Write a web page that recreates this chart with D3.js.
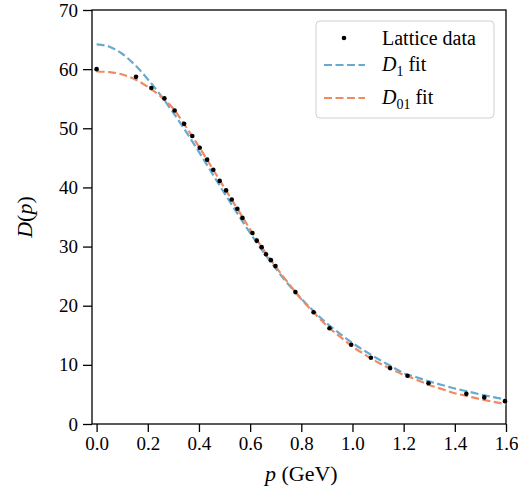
<!DOCTYPE html>
<html>
<head>
<meta charset="utf-8">
<script src="https://cdn.jsdelivr.net/npm/d3@7"></script>
<style>
body { margin: 0; background: #fff; }
text { font-family: "Liberation Serif", serif; fill: #000; }
</style>
</head>
<body>
<div id="chart"></div>
<script>
// lattice points (p in GeV, D(p))
var latticeP = [0.0, 0.154, 0.214, 0.265, 0.305, 0.342, 0.374, 0.403, 0.432, 0.456, 0.481, 0.506,
  0.528, 0.550, 0.570, 0.609, 0.626, 0.645, 0.662, 0.681, 0.699, 0.777, 0.848, 0.910, 0.995,
  1.072, 1.147, 1.215, 1.297, 1.445, 1.515, 1.596];
var latticeD = [60.0, 58.7, 56.8, 55.05, 53.0, 50.75, 48.7, 46.7, 44.7, 43.0, 41.1, 39.5,
  37.95, 36.4, 34.85, 32.3, 31.0, 29.9, 28.7, 27.7, 26.7, 22.3, 18.9, 16.2, 13.4,
  11.2, 9.45, 8.16, 6.9, 5.1, 4.5, 3.86];

// fit curves
var fitP = [0.0, 0.05, 0.1, 0.15, 0.2, 0.25, 0.3, 0.35, 0.4, 0.45, 0.5, 0.55, 0.6, 0.65, 0.7, 0.75,
  0.8, 0.85, 0.9, 0.95, 1.0, 1.05, 1.1, 1.15, 1.2, 1.25, 1.3, 1.35, 1.4, 1.45, 1.5, 1.55, 1.6];
var fitD1 = [64.2, 63.8, 62.6, 60.7, 58.3, 55.6, 52.6, 49.4, 46.0, 42.5, 39.0, 35.6, 32.3, 29.2, 26.3, 23.6,
  21.2, 19.0, 17.0, 15.3, 13.7, 12.3, 11.0, 9.8, 8.6, 7.9, 7.2, 6.6, 6.0, 5.5, 5.0, 4.55, 4.15];
var fitD01 = [59.6, 59.5, 59.1, 58.3, 57.0, 55.4, 53.3, 50.2, 46.9, 43.4, 39.9, 36.4, 32.9, 29.6, 26.6, 23.8,
  21.1, 18.8, 16.6, 14.8, 13.1, 11.7, 10.4, 9.3, 8.3, 7.5, 6.6, 5.9, 5.2, 4.7, 4.2, 3.75, 3.35];

var xTicks = [0, 0.2, 0.4, 0.6, 0.8, 1.0, 1.2, 1.4, 1.6];
var yTicks = [0, 10, 20, 30, 40, 50, 60, 70];

var W = 518, H = 494;
var margin = {top: 10, left: 92, right: 12, bottom: 70};
var width = W - margin.left - margin.right,
    height = H - margin.top - margin.bottom;

var blue = "#67a9cf", orange = "#ef8a62";

var svg = d3.select("#chart").append("svg")
    .attr("width", W)
    .attr("height", H);
var g = svg.append("g")
    .attr("transform", "translate(" + margin.left + "," + margin.top + ")");

var x = d3.scaleLinear().domain([-0.018, 1.6]).range([0, width]);
var y = d3.scaleLinear().domain([0, 70]).range([height, 0]);

var xAxis = g.append("g")
    .attr("transform", "translate(0," + height + ")")
    .call(d3.axisBottom(x).tickValues(xTicks).tickFormat(d3.format(".1f")).tickSize(8).tickPadding(5));
var yAxis = g.append("g")
    .call(d3.axisLeft(y).tickValues(yTicks).tickSize(9).tickPadding(5));
[xAxis, yAxis].forEach(function(a) {
  a.select(".domain").remove();
  a.selectAll("line").attr("stroke", "#000").attr("stroke-width", 1.3);
  a.selectAll("text").style("font-size", "19px").style("font-family", "Liberation Serif, serif");
});

// frame
g.append("rect")
    .attr("width", width).attr("height", height)
    .attr("fill", "none").attr("stroke", "#000").attr("stroke-width", 1.3);

g.append("clipPath").attr("id", "clip")
  .append("rect").attr("width", width).attr("height", height);

var line = d3.line()
    .x(function(d) { return x(d[0]); })
    .y(function(d) { return y(d[1]); })
    .curve(d3.curveMonotoneX);

var plot = g.append("g").attr("clip-path", "url(#clip)");

plot.append("path")
    .datum(fitP.map(function(p, i) { return [p, fitD1[i]]; }))
    .attr("d", line)
    .attr("fill", "none").attr("stroke", blue).attr("stroke-width", 2.2)
    .attr("stroke-dasharray", "8,3.5");

plot.append("path")
    .datum(fitP.map(function(p, i) { return [p, fitD01[i]]; }))
    .attr("d", line)
    .attr("fill", "none").attr("stroke", orange).attr("stroke-width", 2.2)
    .attr("stroke-dasharray", "8,3.5");

g.selectAll(".dot")
    .data(latticeP.map(function(p, i) { return [p, latticeD[i]]; }))
    .enter().append("circle")
    .attr("class", "dot")
    .attr("cx", function(d) { return x(d[0]); })
    .attr("cy", function(d) { return y(d[1]); })
    .attr("r", 2.3)
    .attr("fill", "#000");

// axis labels
svg.append("text")
    .attr("x", margin.left + x(0.8)).attr("y", 481)
    .attr("text-anchor", "middle")
    .style("font-size", "22px")
    .html('<tspan font-style="italic">p</tspan> (GeV)');

svg.append("text")
    .attr("transform", "translate(32," + (margin.top + height / 2) + ") rotate(-90)")
    .attr("text-anchor", "middle")
    .style("font-size", "22px")
    .html('<tspan font-style="italic">D</tspan>(<tspan font-style="italic">p</tspan>)');

// legend
var leg = svg.append("g").attr("transform", "translate(316,21)");
leg.append("rect")
    .attr("width", 178).attr("height", 97)
    .attr("rx", 4)
    .attr("fill", "#fff").attr("fill-opacity", 0.8)
    .attr("stroke", "#d0d0d0").attr("stroke-width", 1);

leg.append("circle").attr("cx", 28).attr("cy", 17).attr("r", 2.3).attr("fill", "#000");
leg.append("text").attr("x", 66).attr("y", 24).style("font-size", "20px").text("Lattice data");

var legLines = [{c: blue, sub: "1", y: 44}, {c: orange, sub: "01", y: 77}];
legLines.forEach(function(l) {
  leg.append("line")
      .attr("x1", 8).attr("x2", 49).attr("y1", l.y).attr("y2", l.y)
      .attr("stroke", l.c).attr("stroke-width", 2.2).attr("stroke-dasharray", "8,3.5");
  var t = leg.append("text").attr("x", 66).attr("y", l.y + 6).style("font-size", "20px");
  t.append("tspan").attr("font-style", "italic").text("D");
  t.append("tspan").attr("dy", 5).style("font-size", "14px").text(l.sub);
  t.append("tspan").attr("dy", -5).text(" fit");
});
</script>
</body>
</html>
